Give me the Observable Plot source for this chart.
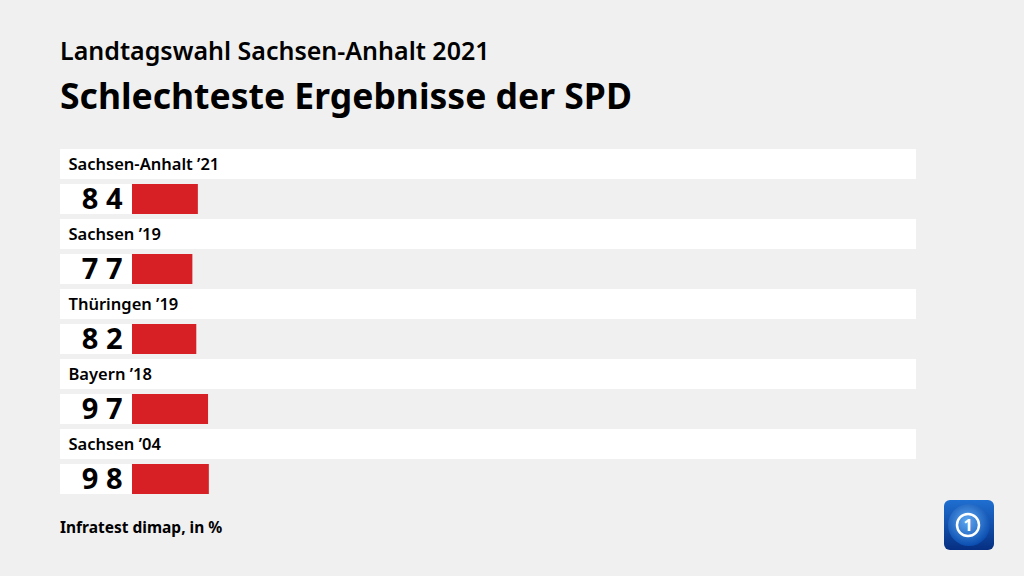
<!DOCTYPE html>
<html><head><meta charset="utf-8">
<script src="https://cdn.jsdelivr.net/npm/d3@7"></script>
<script src="https://cdn.jsdelivr.net/npm/@observablehq/plot@0.6"></script>
<style>
html,body{margin:0;padding:0;background:#f0f0f0;width:1024px;height:576px;overflow:hidden;font-family:"Noto Sans",sans-serif;}
#wrap{position:relative;width:1024px;height:576px;}
.t{position:absolute;left:60px;color:#000;white-space:nowrap;line-height:1;}
#sub{top:38px;font-size:25px;font-weight:600;}
#title{top:78px;font-size:35.5px;font-weight:700;}
#cap{top:520px;font-size:15.5px;font-weight:700;}
#chart{position:absolute;left:0;top:0;}
#logo{position:absolute;left:944px;top:500px;}
</style></head>
<body><div id="wrap">
<div id="chart"></div>
<div class="t" id="sub">Landtagswahl Sachsen-Anhalt 2021</div>
<div class="t" id="title">Schlechteste Ergebnisse der SPD</div>
<div class="t" id="cap">Infratest dimap, in %</div>
<svg id="logo" width="50" height="50" viewBox="0 0 50 50">
<defs>
<linearGradient id="lg" x1="0" y1="0" x2="0" y2="1"><stop offset="0" stop-color="#1f6fd1"/><stop offset="1" stop-color="#062f82"/></linearGradient>
<radialGradient id="rg" cx="0.45" cy="0.4" r="0.6"><stop offset="0" stop-color="#5fa8f0"/><stop offset="1" stop-color="#0a4db0"/></radialGradient>
</defs>
<rect x="0" y="0" width="50" height="50" rx="6" fill="url(#lg)"/>
<circle cx="25" cy="25" r="21" fill="url(#rg)"/>
<circle cx="24" cy="25" r="11" fill="none" stroke="#fff" stroke-width="2.5"/>
<text x="24" y="31" text-anchor="middle" font-size="16" font-weight="700" fill="#fff" font-family="Noto Sans">1</text>
</svg>
</div>
<script>
const categories = ["Sachsen-Anhalt ’21", "Sachsen ’19", "Thüringen ’19", "Bayern ’18", "Sachsen ’04"];
const values = [8.4, 7.7, 8.2, 9.7, 9.8];
const labels = ["8 4", "7 7", "8 2", "9 7", "9 8"];

const data = categories.map((c, i) => ({cat: c, value: values[i], label: labels[i]}));

const chart = Plot.plot({
  width: 1024,
  height: 576,
  marginLeft: 132,
  marginRight: 108,
  marginTop: 149,
  marginBottom: 77,
  style: {background: "transparent", fontFamily: "Noto Sans"},
  x: {domain: [0, 100], axis: null},
  y: {domain: categories, padding: 0, axis: null},
  marks: [
    Plot.barX(data, {x1: 0, x2: 100, y: "cat", fill: "#fff", insetLeft: -72, insetTop: 0, insetBottom: 40}),
    Plot.barX(data, {x1: 0, x2: 0, y: "cat", fill: "#fff", insetLeft: -72, insetTop: 35, insetBottom: 5}),
    Plot.barX(data, {x1: 0, x2: "value", y: "cat", fill: "#d71f26", insetTop: 35, insetBottom: 5}),
    Plot.text(data, {x: 0, y: "cat", text: "cat", textAnchor: "start", dx: -64, dy: -20, fontSize: 16.5, fontWeight: 600, fill: "#000"}),
    Plot.text(data, {x: 0, y: "cat", text: "label", textAnchor: "end", dx: -10, dy: 15, fontSize: 29, fontWeight: 700, fill: "#000", style: "letter-spacing:2px"})
  ]
});
document.getElementById("chart").appendChild(chart);
</script>
</body></html>
